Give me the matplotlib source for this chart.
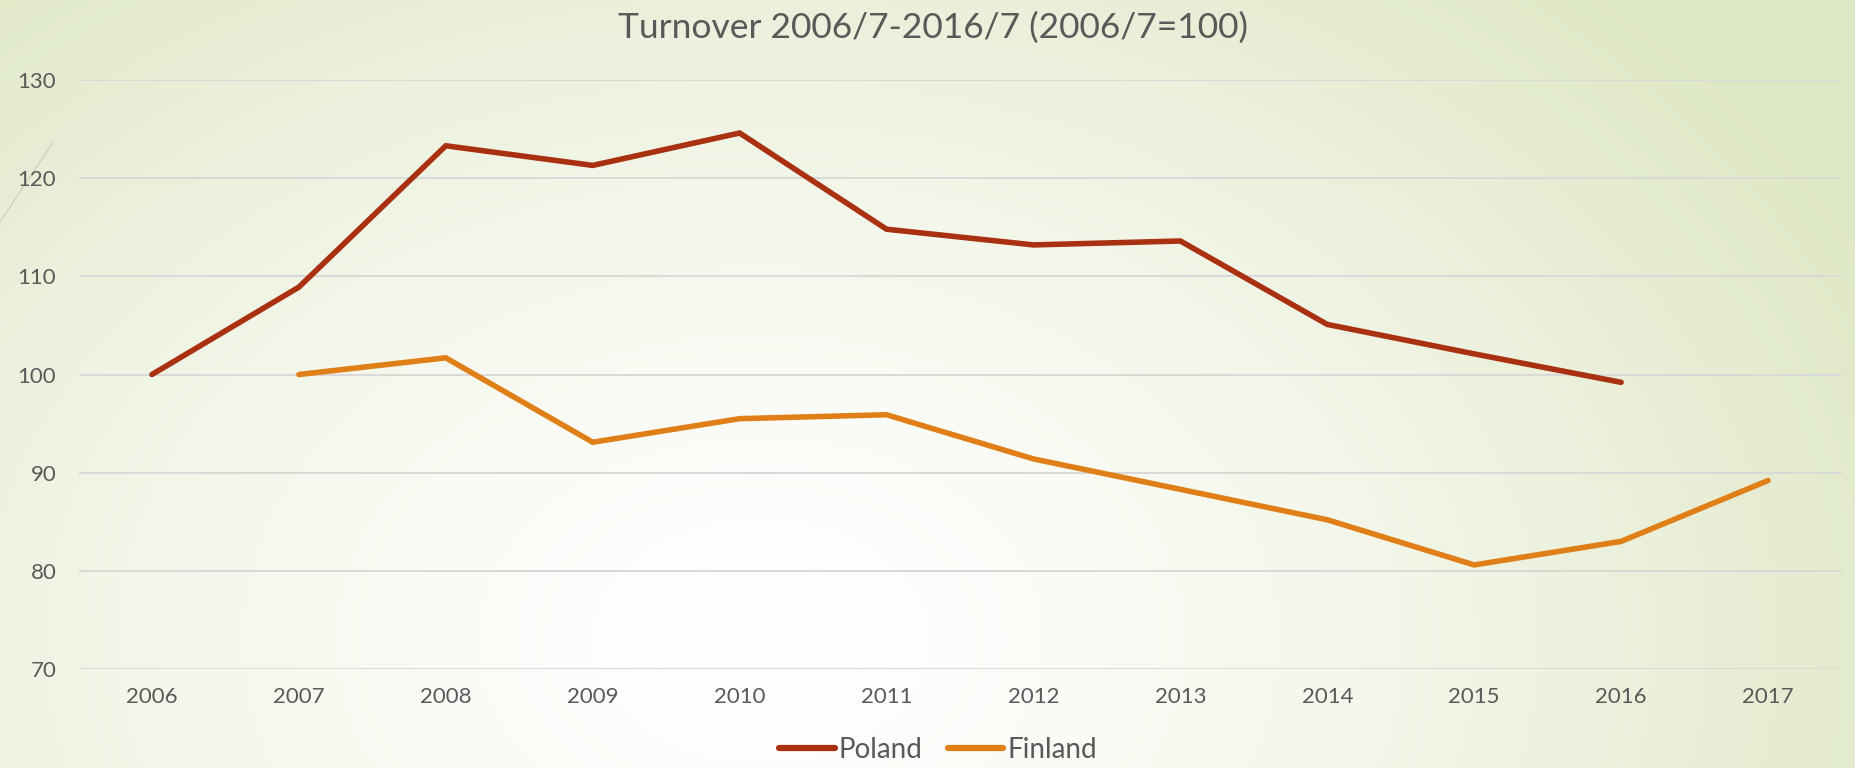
import numpy as np
import matplotlib
matplotlib.use("Agg")
import matplotlib.pyplot as plt
from matplotlib.lines import Line2D

# ---- data ----
years = ["2006", "2007", "2008", "2009", "2010", "2011", "2012", "2013",
         "2014", "2015", "2016", "2017"]
poland = [100, 108.9, 123.3, 121.3, 124.6, 114.8, 113.2, 113.6, 105.1, 102.1, 99.2, np.nan]
finland = [np.nan, 100, 101.7, 93.1, 95.5, 95.9, 91.4, 88.3, 85.2, 80.6, 83.0, 89.2]
yticks = [70, 80, 90, 100, 110, 120, 130]
title = "Turnover 2006/7-2016/7 (2006/7=100)"

W, H, DPI = 1855, 768, 100
fig = plt.figure(figsize=(W / DPI, H / DPI), dpi=DPI)

# background gradient
bg = fig.add_axes([0, 0, 1, 1], zorder=-10)
yy, xx = np.mgrid[0:H, 0:W]
cx, cy = 760, 640
d = np.sqrt(((xx - cx) / 1250.0) ** 2 + ((yy - cy) / 900.0) ** 2)
t = np.clip(d, 0, 1) ** 1.4
edge = np.array([222, 231, 196]) / 255.0
white = np.array([1.0, 1.0, 1.0])
img = white[None, None, :] * (1 - t[..., None]) + edge[None, None, :] * t[..., None]
bg.imshow(img, extent=[0, W, H, 0], aspect="auto", interpolation="bilinear")
bg.set_xlim(0, W)
bg.set_ylim(H, 0)
bg.axis("off")
# slide decoration line top-left
bg.plot([0, 53], [222, 142], color="#C9D0B4", lw=0.9)

left, right = 78.5 / W, 1841.5 / W
top, bottom = 1 - 80 / H, 1 - 669 / H
ax = fig.add_axes([left, bottom, right - left, top - bottom])
ax.patch.set_alpha(0)

x = np.arange(len(years))
ax.plot(x, poland, color="#A93111", lw=4.0, solid_capstyle="round",
        solid_joinstyle="miter", label="Poland", zorder=3)
ax.plot(x, finland, color="#E07F18", lw=4.0, solid_capstyle="round",
        solid_joinstyle="miter", label="Finland", zorder=3)

ax.set_xlim(-0.5, len(years) - 0.5)
ax.set_ylim(70, 130)
ax.set_yticks(yticks)
ax.set_xticks(x)
ax.set_xticklabels(years)
ax.grid(axis="y", color="#D9D9D9", lw=1.4)
ax.set_axisbelow(True)
for s in ax.spines.values():
    s.set_visible(False)
ax.tick_params(axis="both", length=0, colors="#595959", labelsize=16)
ax.tick_params(axis="y", pad=16)
ax.tick_params(axis="x", pad=13)
for lab in ax.get_xticklabels() + ax.get_yticklabels():
    lab.set_fontfamily("Lato")

fig.text(0.503, 1 - 28 / H, title, ha="center", va="center",
         fontsize=25.5, color="#595959", family="Lato", fontweight="normal")

handles = [Line2D([], [], color="#A93111", lw=4.5, solid_capstyle="round"),
           Line2D([], [], color="#E07F18", lw=4.5, solid_capstyle="round")]
leg = fig.legend(handles, ["Poland", "Finland"], loc="center",
                 bbox_to_anchor=(938 / W, 1 - 750 / H), ncol=2, frameon=False,
                 handlelength=2.0, handletextpad=0.15, columnspacing=0.9,
                 prop={"family": "Lato", "size": 20})
for txt in leg.get_texts():
    txt.set_color("#595959")

fig.savefig("out.png", dpi=DPI)
